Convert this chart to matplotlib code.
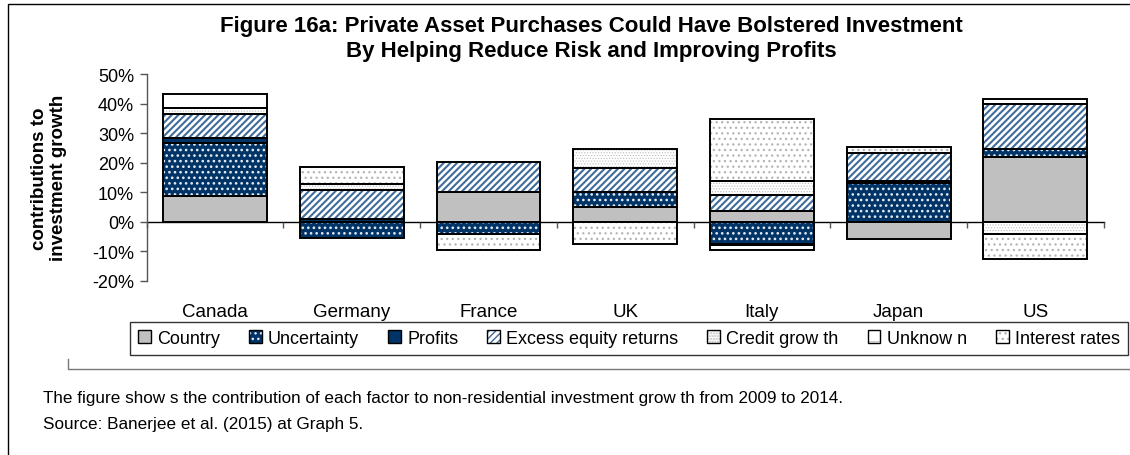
import numpy as np
import matplotlib
matplotlib.use("Agg")
import matplotlib.pyplot as plt
from matplotlib.patches import Patch, Rectangle
from matplotlib.lines import Line2D
from matplotlib.ticker import PercentFormatter, FixedLocator

plt.rcParams['font.family'] = ['Liberation Sans', 'DejaVu Sans']
plt.rcParams['axes.unicode_minus'] = False

# ---------------- data ----------------
countries = ["Canada", "Germany", "France", "UK", "Italy", "Japan", "US"]
series_names = ["Country", "Uncertainty", "Profits", "Excess equity returns",
                "Credit grow th", "Unknow n", "Interest rates"]
country_vals = [8.8, 0.0, 10.1, 5.1, 3.6, -6.0, 22.0]
uncertainty_vals = [17.8, -5.5, -4.3, 5.1, -7.5, 13.0, 2.5]
profits_vals = [1.8, 0.8, 0.0, 0.0, -0.3, 0.8, 0.0]
excess_vals = [8.1, 9.9, 10.2, 8.1, 5.3, 9.4, 15.3]
credit_vals = [1.9, 2.2, 0.0, 6.2, 4.9, 0.0, -4.3]
unknown_vals = [4.8, 0.0, 0.0, 0.0, -1.9, 0.0, 1.7]
interest_vals = [0.0, 5.5, -5.3, -7.7, 20.9, 2.0, -8.5]
yticks = [-20, -10, 0, 10, 20, 30, 40, 50]

# ---------------- styles ----------------
NAVY = '#003366'
styles = [
    dict(face='#C0C0C0', hatch=None, hc='#C0C0C0', hlw=1.0),
    dict(face=NAVY, hatch='...', hc='#e4ebf3', hlw=1.1),
    dict(face=NAVY, hatch=None, hc=NAVY, hlw=1.0),
    dict(face='white', hatch='/////', hc='#3f6c9b', hlw=1.5),
    dict(face='white', hatch='......', hc='#bdbdbd', hlw=0.5),
    dict(face='white', hatch='-', hc='#d0d0d0', hlw=1.5),
    dict(face='white', hatch='...', hc='#b4b4b4', hlw=0.9),
]
all_vals = [country_vals, uncertainty_vals, profits_vals, excess_vals,
            credit_vals, unknown_vals, interest_vals]

W, H = 1130, 456
fig = plt.figure(figsize=(W / 100, H / 100), dpi=100)

def fx(px):
    return px / W

def fy(py):
    return 1 - py / H

ax_left, ax_right, ax_top, ax_bot = 146.7, 1103.7, 75.0, 281.7
ax = fig.add_axes([fx(ax_left), fy(ax_bot), fx(ax_right - ax_left), (ax_bot - ax_top) / H])

x = np.arange(len(countries))
bw = 0.76
pos_bottom = np.zeros(len(countries))
neg_bottom = np.zeros(len(countries))
for vals, st in zip(all_vals, styles):
    v = np.array(vals, dtype=float)
    for sign in (1, -1):
        mask = (v > 0) if sign == 1 else (v < 0)
        if not mask.any():
            continue
        base = pos_bottom if sign == 1 else neg_bottom
        with plt.rc_context({'hatch.linewidth': st['hlw']}):
            ax.bar(x[mask], v[mask], bottom=base[mask], width=bw,
                   color=st['face'], hatch=st['hatch'], edgecolor=st['hc'],
                   linewidth=0, zorder=2)
        ax.bar(x[mask], v[mask], bottom=base[mask], width=bw, fill=False,
               edgecolor='black', linewidth=1.4, zorder=3)
        base[mask] += v[mask]

ax.set_xlim(-0.5, 6.5)
ax.set_ylim(-20, 50)
ax.set_yticks(yticks)
ax.yaxis.set_major_formatter(PercentFormatter(decimals=0))
ax.tick_params(axis='y', direction='out', length=5, width=1, color='#555555',
               labelsize=13, pad=4)
for s in ['top', 'right']:
    ax.spines[s].set_visible(False)
ax.spines['left'].set_color('#555555')
ax.spines['left'].set_linewidth(1.0)
ax.spines['bottom'].set_position(('data', 0))
ax.spines['bottom'].set_color('black')
ax.spines['bottom'].set_linewidth(1.0)
ax.spines['bottom'].set_zorder(1)
ax.set_xticks(x)
ax.set_xticklabels([])
ax.tick_params(axis='x', which='major', length=0)
ax.xaxis.set_minor_locator(FixedLocator(np.arange(-0.5, 7.0, 1.0)))
ax.tick_params(axis='x', which='minor', direction='out', length=4, width=1, color='#555555')

for i, c in enumerate(countries):
    ax.text(i, -0.147, c, transform=ax.get_xaxis_transform(), ha='center', va='center',
            fontsize=13.5)

ax.text(-0.102, 0.5, "contributions to\ninvestment growth", transform=ax.transAxes,
        rotation=90, ha='center', va='center', fontsize=13.5, fontweight='bold',
        linespacing=1.15)

# title
fig.text(fx(591), fy(39), "Figure 16a: Private Asset Purchases Could Have Bolstered Investment\n"
         "By Helping Reduce Risk and Improving Profits", ha='center', va='center',
         fontsize=16, fontweight='bold', linespacing=1.25)

# legend
handles = []
for st in styles:
    h1 = Patch(facecolor=st['face'], hatch=st['hatch'], edgecolor=st['hc'], linewidth=0)
    h2 = Patch(fill=False, edgecolor='black', linewidth=1.0)
    handles.append((h1, h2))
leg = fig.legend(handles, series_names, loc='center left',
                 bbox_to_anchor=(fx(130), fy(357), fx(1128 - 130), (357 - 322) / H),
                 mode='expand', ncol=7, frameon=True, fancybox=False, edgecolor='black',
                 handlelength=0.7, handleheight=0.7, handletextpad=0.35,
                 borderpad=0.45, fontsize=13, borderaxespad=0)
leg.get_frame().set_linewidth(1.0)

# captions
fig.text(fx(43), fy(399), "The figure show s the contribution of each factor to non-residential "
         "investment grow th from 2009 to 2014.", ha='left', va='center', fontsize=12.3)
fig.text(fx(43), fy(425), "Source: Banerjee et al. (2015) at Graph 5.", ha='left',
         va='center', fontsize=12.3)

# frames
fig.add_artist(Rectangle((fx(7.5), fy(470)), fx(1140), (470 - 4.5) / H, fill=False,
                         edgecolor='black', linewidth=1.0, transform=fig.transFigure))
fig.add_artist(Line2D([fx(68), fx(68), fx(1135)], [fy(360), fy(370), fy(370)],
                      color='#777777', linewidth=1.0, transform=fig.transFigure))

fig.savefig("out.png", dpi=100)
